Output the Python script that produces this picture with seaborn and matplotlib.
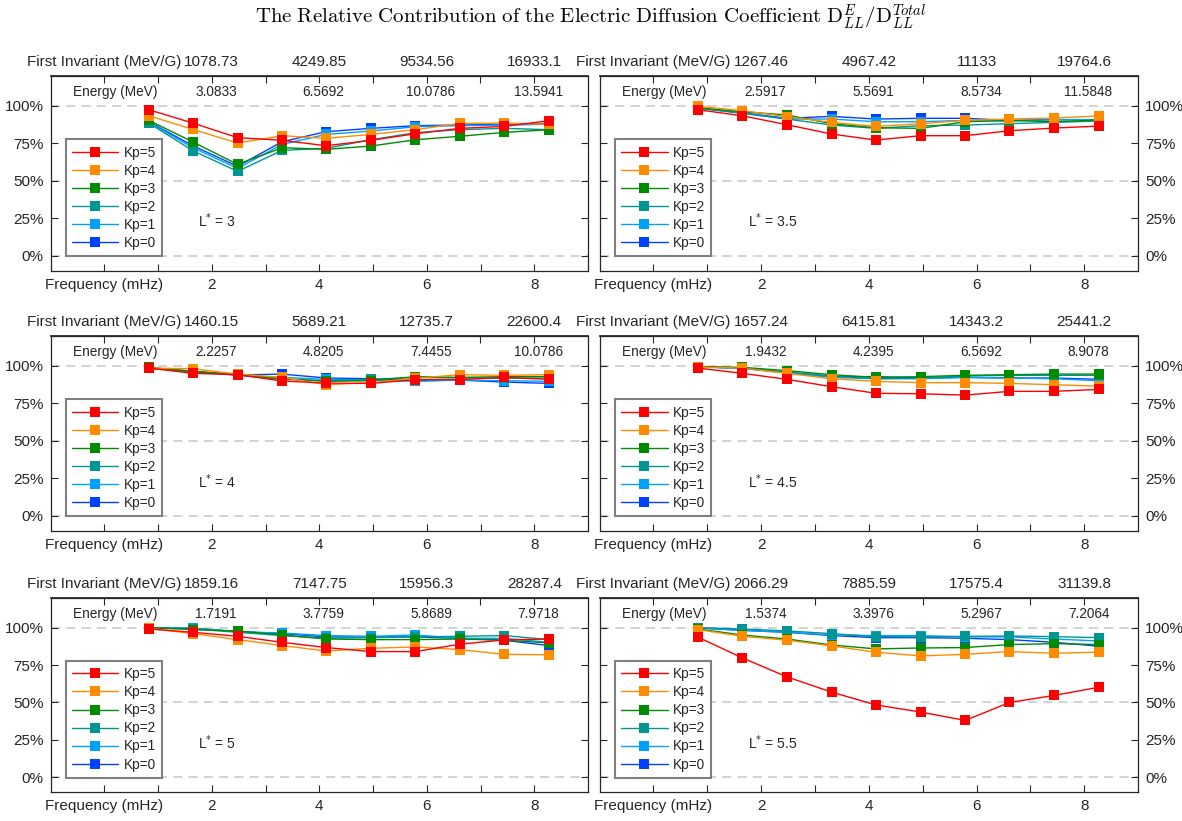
import matplotlib
matplotlib.use("Agg")
import matplotlib.pyplot as plt
import numpy as np
import pandas as pd
import seaborn as sns
from matplotlib.lines import Line2D

# ---- data -----------------------------------------------------------------
freq_mhz = [0.83, 1.65, 2.48, 3.31, 4.13, 4.96, 5.79, 6.61, 7.44, 8.27]
kp_levels = [5, 4, 3, 2, 1, 0]
kp_colors = {5: "#ff0000", 4: "#ff8c00", 3: "#008c00",
             2: "#009696", 1: "#00a0ff", 0: "#0040ff"}
lstar_values = ["3", "3.5", "4", "4.5", "5", "5.5"]

# relative contribution D_LL^E / D_LL^Total (%) per Kp, one dict per L*
ratio_L30 = {5: [97.3, 88.4, 78.7, 76.9, 73.3, 76.9, 81.3, 84.9, 86.2, 90.0],
             4: [93.3, 84.2, 75.1, 80.0, 78.2, 80.9, 84.0, 88.2, 88.4, 87.6],
             3: [90.2, 75.8, 60.9, 72.0, 70.9, 73.1, 77.3, 79.6, 82.2, 84.0],
             2: [88.4, 70.0, 56.2, 70.2, 71.6, 77.3, 82.0, 84.0, 84.9, 84.0],
             1: [89.0, 72.0, 58.2, 74.2, 80.9, 83.1, 86.0, 86.7, 87.1, 87.6],
             0: [89.3, 73.3, 59.6, 76.0, 82.7, 84.9, 86.7, 87.1, 87.6, 88.2]}
ratio_L35 = {5: [97.3, 93.3, 87.3, 81.1, 77.1, 80.0, 80.0, 83.3, 85.1, 86.4],
             4: [99.6, 96.7, 92.7, 88.9, 86.2, 88.0, 90.2, 91.1, 91.8, 93.1],
             3: [98.6, 96.0, 93.8, 88.0, 85.3, 84.9, 89.3, 90.2, 89.3, 90.4],
             2: [98.4, 94.9, 91.1, 87.1, 84.9, 86.7, 87.1, 88.0, 88.9, 89.8],
             1: [98.4, 95.1, 91.1, 91.1, 89.3, 89.3, 90.2, 89.8, 90.7, 90.7],
             0: [98.4, 95.3, 91.6, 92.9, 91.1, 91.6, 91.6, 90.2, 90.7, 90.7]}
ratio_L40 = {5: [98.4, 94.9, 94.0, 89.8, 88.4, 88.2, 90.7, 90.7, 92.2, 90.9],
             4: [98.4, 98.0, 94.4, 92.2, 87.3, 88.7, 91.6, 94.0, 93.6, 94.0],
             3: [98.9, 96.2, 94.0, 91.3, 89.6, 90.0, 92.7, 92.2, 92.7, 92.7],
             2: [98.4, 96.0, 93.8, 90.9, 90.0, 90.9, 92.2, 91.8, 91.6, 91.8],
             1: [98.4, 96.2, 93.6, 92.2, 90.9, 90.4, 89.6, 90.4, 90.0, 89.6],
             0: [98.4, 96.4, 93.8, 94.4, 91.8, 91.3, 90.0, 90.4, 89.1, 88.2]}
ratio_L45 = {5: [98.4, 94.9, 90.9, 86.0, 81.6, 81.3, 80.4, 82.9, 82.9, 84.2],
             4: [99.1, 98.4, 94.9, 91.3, 89.6, 88.7, 88.7, 88.2, 87.3, 86.4],
             3: [99.3, 98.9, 96.7, 94.0, 92.2, 92.7, 93.6, 94.0, 94.4, 94.4],
             2: [99.3, 98.4, 95.8, 93.1, 91.3, 91.8, 93.1, 93.6, 93.6, 93.6],
             1: [99.3, 98.2, 95.3, 92.2, 91.3, 91.3, 92.2, 91.8, 91.3, 90.0],
             0: [99.3, 98.2, 95.3, 92.7, 92.7, 91.8, 92.2, 91.8, 91.8, 90.9]}
ratio_L50 = {5: [99.1, 96.9, 94.2, 90.2, 86.7, 84.0, 84.0, 88.9, 91.8, 92.4],
             4: [99.6, 96.0, 92.0, 88.0, 84.4, 86.2, 87.1, 85.3, 82.2, 81.8],
             3: [100.0, 98.7, 97.8, 95.1, 92.4, 92.0, 92.0, 92.4, 91.6, 89.8],
             2: [100.0, 99.1, 96.9, 94.7, 92.9, 93.3, 93.8, 94.2, 94.7, 92.0],
             1: [100.0, 99.6, 97.3, 96.4, 94.7, 94.2, 95.1, 92.9, 92.9, 90.2],
             0: [100.0, 99.6, 97.3, 96.0, 93.8, 93.8, 93.8, 92.9, 91.6, 88.0]}
ratio_L55 = {5: [93.6, 79.8, 67.1, 56.9, 48.4, 43.6, 38.0, 50.0, 54.7, 60.2],
             4: [98.7, 94.2, 91.6, 87.8, 83.6, 81.1, 82.2, 84.0, 82.9, 83.6],
             3: [99.1, 95.1, 92.4, 88.4, 85.8, 86.4, 86.7, 88.7, 89.3, 88.7],
             2: [100.0, 99.1, 97.8, 96.0, 94.0, 93.8, 94.2, 94.4, 94.0, 93.3],
             1: [99.8, 98.2, 96.9, 95.1, 94.7, 94.7, 93.8, 93.8, 92.4, 91.1],
             0: [99.8, 98.2, 96.9, 94.7, 93.3, 93.3, 92.9, 92.0, 90.2, 87.6]}
ratios = [ratio_L30, ratio_L35, ratio_L40, ratio_L45, ratio_L50, ratio_L55]

# top axis annotations: first invariant (MeV/G) and energy (MeV) at 2, 4, 6, 8 mHz
invariant_labels = [["1078.73", "4249.85", "9534.56", "16933.1"],
                    ["1267.46", "4967.42", "11133", "19764.6"],
                    ["1460.15", "5689.21", "12735.7", "22600.4"],
                    ["1657.24", "6415.81", "14343.2", "25441.2"],
                    ["1859.16", "7147.75", "15956.3", "28287.4"],
                    ["2066.29", "7885.59", "17575.4", "31139.8"]]
energy_labels = [["3.0833", "6.5692", "10.0786", "13.5941"],
                 ["2.5917", "5.5691", "8.5734", "11.5848"],
                 ["2.2257", "4.8205", "7.4455", "10.0786"],
                 ["1.9432", "4.2395", "6.5692", "8.9078"],
                 ["1.7191", "3.7759", "5.8689", "7.9718"],
                 ["1.5374", "3.3976", "5.2967", "7.2064"]]

# ---- style ----------------------------------------------------------------
sns.set_theme(style="white")
plt.rcParams["font.family"] = ["Liberation Sans", "DejaVu Sans"]
plt.rcParams["font.size"] = 9.8
ink = "#262626"

fig = plt.figure(figsize=(11.82, 8.21), dpi=100)
W, H = 1182, 821
col_px = [(50.5, 537.5), (599.6, 538.5)]
row_px = [(75.7, 270.7), (335.7, 530.7), (597.7, 792.3)]

tick_pos = list(range(0, 9))
major_show = [2, 4, 6, 8]

for i, ratio in enumerate(ratios):
    r, c = divmod(i, 2)
    x0, w = col_px[c]
    top, bot = row_px[r]
    ax = fig.add_axes([x0 / W, 1 - bot / H, w / W, (bot - top) / H])

    df = pd.DataFrame([
        {"freq": f, "ratio": v, "Kp": kp}
        for kp in sorted(ratio)
        for f, v in zip(freq_mhz, ratio[kp])
    ])
    for yv in (0, 50, 100):
        ax.axhline(yv, color="#c8c8c8", lw=1.1, ls=(0, (6, 4)), zorder=0)
    sns.lineplot(data=df, x="freq", y="ratio", hue="Kp",
                 hue_order=[0, 1, 2, 3, 4, 5], palette=kp_colors,
                 marker="s", markersize=7, markeredgewidth=0, linewidth=1.0,
                 legend=False, ax=ax, zorder=3)

    ax.set_xlim(-1, 9)
    ax.set_ylim(-10, 120)
    ax.set_xlabel("")
    ax.set_ylabel("")

    bottom_labels = ["Frequency (mHz)"] + [str(t) if t in major_show else "" for t in tick_pos[1:]]
    ax.set_xticks(tick_pos, bottom_labels)
    ax.set_yticks([0, 25, 50, 75, 100], ["0%", "25%", "50%", "75%", "100%"])
    ax.tick_params(axis="x", direction="in", length=5, width=0.8, colors=ink,
                   pad=5, top=False, bottom=True)
    ax.tick_params(axis="y", direction="in", length=5, width=0.8, colors=ink,
                   pad=5, left=True, right=True,
                   labelleft=(c == 0), labelright=(c == 1))
    for s in ax.spines.values():
        s.set_color(ink)
        s.set_linewidth(0.9)

    inv = iter(invariant_labels[i])
    top_labels = ["First Invariant (MeV/G)"] + [next(inv) if t in major_show else "" for t in tick_pos[1:]]
    sec = ax.secondary_xaxis("top")
    sec.set_xticks(tick_pos, top_labels)
    sec.tick_params(direction="in", length=5, width=0.8, colors=ink, pad=5)
    sec.spines["top"].set_color(ink)

    ax.text(0.2, 109, "Energy (MeV)", ha="center", va="center", color=ink)
    for xt, lab in zip(major_show, energy_labels[i]):
        ax.text(xt + 0.08, 109, lab, ha="center", va="center", color=ink)

    ax.text(1.75, 23, r"L$^{*}$ = " + lstar_values[i], ha="left", va="center",
            color=ink, fontsize=10)

    handles = [Line2D([], [], color=kp_colors[k], marker="s", markersize=7,
                      markeredgewidth=0, lw=1.0) for k in kp_levels]
    leg = ax.legend(handles, [f"Kp={k}" for k in kp_levels], loc="lower left",
                    bbox_to_anchor=(0.029, 0.075), borderaxespad=0,
                    frameon=True, fancybox=False, framealpha=1,
                    edgecolor="#808080", handlelength=3.4, handletextpad=0.4,
                    labelspacing=0.3, borderpad=0.45, fontsize=9.8)
    leg.get_frame().set_linewidth(1.5)
    for t in leg.get_texts():
        t.set_color(ink)

fig.text(0.5, 1 - 17 / H,
         r"$\mathrm{The\ Relative\ Contribution\ of\ the\ Electric\ Diffusion\ Coefficient\ D}_{LL}^{E}/\mathrm{D}_{LL}^{Total}$",
         ha="center", va="center", fontsize=15, math_fontfamily="cm", color="black")

fig.savefig("out.png", dpi=100)
